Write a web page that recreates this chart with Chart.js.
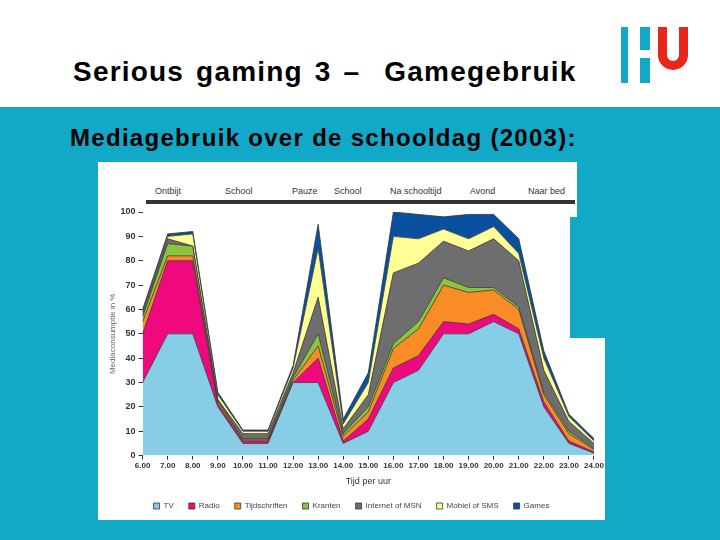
<!DOCTYPE html>
<html><head><meta charset="utf-8">
<script src="https://cdn.jsdelivr.net/npm/chart.js@4"></script>
<style>
body{margin:0;width:720px;height:540px;position:relative;overflow:hidden;background:#fff;font-family:"Liberation Sans",Arial,sans-serif}
.abs{position:absolute}
</style></head><body>
<div class="abs" style="left:0;top:107px;width:720px;height:433px;background:#12a9c8"></div>
<div class="abs" style="left:73px;top:56px;font-size:28px;letter-spacing:1.2px;word-spacing:3px;font-weight:bold;color:#000;white-space:nowrap">Serious gaming 3 –&nbsp; Gamegebruik</div>
<div class="abs" style="left:70px;top:124px;font-size:24px;letter-spacing:1.3px;font-weight:bold;color:#000;white-space:nowrap">Mediagebruik over de schooldag (2003):</div>
<div class="abs" style="left:621px;top:27px;width:7px;height:56px;background:#12a9c8"></div>
<div class="abs" style="left:640px;top:27px;width:10px;height:23px;background:#12a9c8"></div>
<div class="abs" style="left:640px;top:58px;width:10px;height:25px;background:#12a9c8"></div>
<div class="abs" style="left:658px;top:27px;width:30px;height:43px;box-sizing:border-box;border:9px solid #e8261c;border-top:none;border-radius:0 0 15px 15px"></div>
<div class="abs" style="left:98px;top:162px;width:507px;height:358px;background:#fff"></div>
<div class="abs" style="left:577px;top:162px;width:28px;height:55px;background:#12a9c8"></div>
<div class="abs" style="left:570px;top:217px;width:35px;height:121px;background:#12a9c8"></div>
<div class="abs" style="left:146px;top:200px;width:429px;height:4px;background:#333"></div>
<div class="abs" id="phases" style="left:0;top:186px;font-size:9px;color:#333"></div>
<div class="abs" style="left:98px;top:162px;width:507px;height:358px"><canvas id="c"></canvas></div>
<script>
const hours=["6.00","7.00","8.00","9.00","10.00","11.00","12.00","13.00","14.00","15.00","16.00","17.00","18.00","19.00","20.00","21.00","22.00","23.00","24.00"];
const tv=[30,50,50,20,5,5,30,30,5,10,30,35,50,50,55,50,20,5,1];
const radio=[20,30,30,1,1,1,0,10,1,5,6,6,5,4,3,2,2,1,0.5];
const tijdschriften=[5,2,2,1,0.5,0.5,1,5,2,3,8,11,15,13,10,8,3,3,1];
const kranten=[2,5,4,0.5,0.5,0.5,1,5,1,2,2,3,3,2,1,1,1,1,0.5];
const internet=[1,2,0,0.5,2,2,2,15,2,5,29,24,15,15,20,19,9,4,2];
const mobiel=[1,1,5,2,1,1,2,20,2,5,15,10,5,5,5,3,5,2,1];
const games=[1,1,1,1,0.5,0.5,1,10,2,4,10,10,5,10,5,6,3,1,1];
const phases=[["Ontbijt",155],["School",225],["Pauze",292],["School",334],["Na schooltijd",390],["Avond",470],["Naar bed",528]];
const names=["TV","Radio","Tijdschriften","Kranten","Internet of MSN","Mobiel of SMS","Games"];
const colors=["#87cde6","#f0087e","#fa8c28","#8cc43c","#6e6e6e","#ffff96","#0a50a0"];
const series=[tv,radio,tijdschriften,kranten,internet,mobiel,games];
const ph=document.getElementById('phases');
phases.forEach(p=>{const d=document.createElement('div');d.className='abs';d.style.left=p[1]+'px';d.style.whiteSpace='nowrap';d.textContent=p[0];ph.appendChild(d);});
new Chart(document.getElementById('c'),{type:'line',
data:{labels:hours,datasets:series.map((s,i)=>({label:names[i],data:s,backgroundColor:colors[i],borderColor:'#333',borderWidth:0.8,pointRadius:0,tension:0,fill:i===0?'origin':'-1'}))},
options:{animation:false,responsive:true,maintainAspectRatio:false,
layout:{padding:{left:10,right:10,top:50,bottom:0}},
plugins:{legend:{position:'bottom',labels:{boxWidth:6,boxHeight:6,font:{size:8},color:'#444',padding:15}},tooltip:{enabled:false}},
scales:{x:{offset:false,grid:{display:true,drawOnChartArea:false,tickLength:4,color:'#333'},border:{display:false},ticks:{font:{size:8,weight:'bold'},color:'#333',maxRotation:0,autoSkip:false,padding:1},title:{display:true,text:'Tijd per uur',font:{size:9},color:'#333',padding:{top:5,bottom:0}}},
y:{stacked:true,min:0,max:100,grid:{display:true,drawOnChartArea:false,tickLength:4,color:'#333'},border:{display:false},ticks:{stepSize:10,font:{size:9,weight:'bold'},color:'#333'},title:{display:true,text:'Mediaconsumptie in %',font:{size:8},color:'#666',padding:0}}}}});
</script></body></html>
